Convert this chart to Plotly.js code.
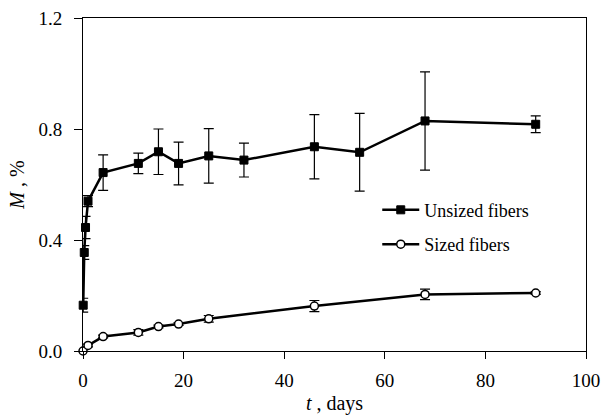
<!DOCTYPE html>
<html>
<head>
<meta charset="utf-8">
<script src="https://cdn.plot.ly/plotly-3.0.1.min.js"></script>
<style>html,body{margin:0;padding:0;background:#fff;}#chart{width:604px;height:417px;}</style>
</head>
<body>
<div id="chart"></div>
<script>
const unsizedT = [0.04, 0.25, 0.5, 1, 4, 11, 15, 19, 25, 32, 46, 55, 68, 90];
const unsizedM = [0.165, 0.355, 0.445, 0.54, 0.643, 0.676, 0.718, 0.676, 0.703, 0.688, 0.736, 0.716, 0.829, 0.817];
const unsizedErr = [0.025, 0.025, 0.04, 0.02, 0.064, 0.037, 0.082, 0.077, 0.098, 0.061, 0.116, 0.14, 0.177, 0.03];

const sizedT = [0, 1, 4, 11, 15, 19, 25, 46, 68, 90];
const sizedM = [0, 0.02, 0.052, 0.067, 0.088, 0.097, 0.116, 0.162, 0.204, 0.209];
const sizedErr = [0.005, 0.005, 0.005, 0.01, 0.005, 0.005, 0.012, 0.02, 0.019, 0.005];

const xTicks = [0, 20, 40, 60, 80, 100];
const yTicks = [0, 0.4, 0.8, 1.2];
const yTickText = ['0.0', '0.4', '0.8', '1.2'];

const FAMILY = 'Liberation Serif, Times New Roman, serif';
const font = {family: FAMILY, size: 18, color: '#000'};
const tickFont = {family: FAMILY, size: 19, color: '#000'};
const titleFont = {family: FAMILY, size: 20, color: '#000'};

const traces = [
  {
    x: unsizedT, y: unsizedM, name: 'Unsized fibers', type: 'scatter', mode: 'lines+markers',
    legendgroup: 'a',
    line: {color: '#000', width: 2.5},
    marker: {symbol: 'square', size: 8, color: '#000', line: {color: '#000', width: 1}},
    error_y: {type: 'data', array: unsizedErr, visible: true, color: '#000', thickness: 1.2, width: 5},
    cliponaxis: false
  },
  {
    x: sizedT, y: sizedM, name: 'Sized fibers', type: 'scatter', mode: 'lines+markers',
    legendgroup: 'b',
    line: {color: '#000', width: 2.5},
    marker: {symbol: 'circle', size: 8, color: '#fff', line: {color: '#000', width: 1.5}},
    error_y: {type: 'data', array: sizedErr, visible: true, color: '#000', thickness: 1.2, width: 5},
    cliponaxis: false
  }
];

const layout = {
  width: 604, height: 417,
  margin: {l: 83, r: 18, t: 18, b: 66},
  paper_bgcolor: '#fff', plot_bgcolor: '#fff',
  font: font,
  showlegend: true,
  legend: {x: 0.585, y: 0.372, xanchor: 'left', yanchor: 'middle', bgcolor: 'rgba(0,0,0,0)',
           font: font, tracegroupgap: 8, traceorder: 'grouped', itemwidth: 37},
  xaxis: {
    range: [0, 100], tickvals: xTicks, ticktext: xTicks.map(String),
    ticks: 'outside', ticklen: 7, tickwidth: 1, tickcolor: '#000',
    showline: true, linecolor: '#000', linewidth: 1, mirror: true,
    showgrid: false, zeroline: false,
    tickfont: tickFont, ticklabelstandoff: 5,
    title: {text: '<i>t</i> , days', font: titleFont, standoff: 6}
  },
  yaxis: {
    range: [0, 1.2], tickvals: yTicks, ticktext: yTickText,
    ticks: 'outside', ticklen: 8, tickwidth: 1, tickcolor: '#000',
    showline: true, linecolor: '#000', linewidth: 1, mirror: true,
    showgrid: false, zeroline: false,
    tickfont: tickFont, ticklabelstandoff: 8,
    title: {text: '<i>M</i> , %', font: titleFont, standoff: 8}
  }
};

Plotly.newPlot('chart', traces, layout, {displayModeBar: false, staticPlot: true});
</script>
</body>
</html>
